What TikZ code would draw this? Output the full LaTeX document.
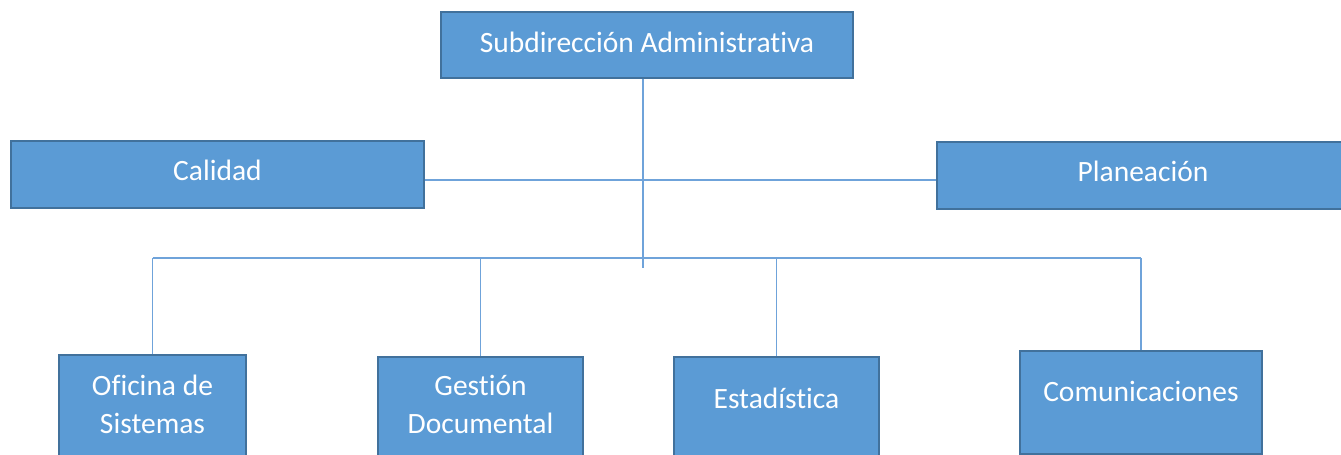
\documentclass[tikz,border=0pt]{standalone}
\usepackage{fontspec}
\setmainfont{Carlito}[Ligatures=NoCommon]
\definecolor{boxfill}{HTML}{5B9BD5}
\definecolor{boxline}{HTML}{41719C}
\definecolor{wire}{HTML}{6FA3DA}

\begin{document}
\begin{tikzpicture}[x=1pt,y=-1pt,
        unit/.style={draw=boxline, fill=boxfill, line width=1.6pt, text=white, anchor=north,
            font=\fontsize{29.5}{38}\selectfont, align=center, inner sep=0pt},
        wireline/.style={draw=wire, line width=1.4pt}]
                \useasboundingbox (0,0) rectangle (1341,455);
                \clip (0,0) rectangle (1341,455);
                % upper level
                \node[unit, minimum width=412pt, text height=40.5pt, text depth=25.5pt]
                    (sub) at (647,11) {Subdirección Administrativa};
                \node[unit, minimum width=413pt, text height=39.5pt, text depth=27.5pt]
                    (cal) at (217.5,140) {Calidad};
                \node[unit, minimum width=412pt, text height=39.5pt, text depth=27.5pt]
                    (plan) at (1143,141) {Planeación};
                % lower level
                \node[unit, minimum width=187pt, text height=78.5pt, text depth=41.5pt]
                    (ofi) at (152.5,354) {Oficina de\\Sistemas};
                \node[unit, minimum width=205pt, text height=77pt, text depth=43pt]
                    (ges) at (480.5,356) {Gestión\\Documental};
                \node[unit, minimum width=205pt, text height=51.5pt, text depth=69pt]
                    (est) at (776.5,356) {Estadística};
                \node[unit, minimum width=242pt, text height=51pt, text depth=52pt]
                    (com) at (1141,350) {Comunicaciones};
                % connectors
                \coordinate (trunk) at (643,268);
                \coordinate (side) at (643,180);
                \coordinate (bus) at (643,258);
                \draw[wireline]
                    (sub.south -| trunk) -- (trunk);
                \draw[wireline]
                    (side -| cal.east) -- (side -| plan.west);
                \draw[wireline]
                    (bus -| ofi.north) -- (bus -| com.north);
                \foreach \b in {ofi,ges,est,com}
                    \draw[wireline] (bus -| \b.north) -- (\b.north);
            \end{tikzpicture}
\end{document}
